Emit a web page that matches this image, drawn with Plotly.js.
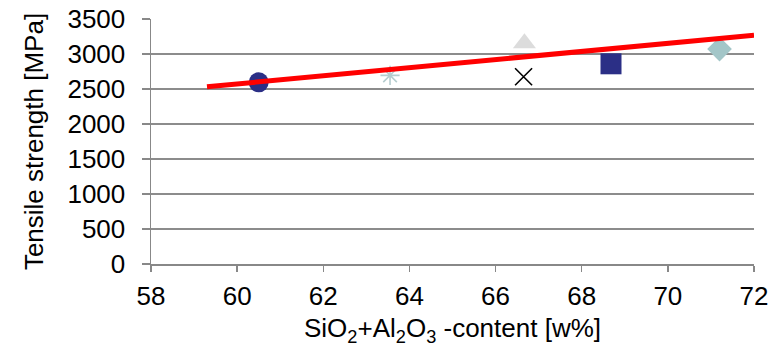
<!DOCTYPE html>
<html>
<head>
<meta charset="utf-8">
<script src="https://cdn.plot.ly/plotly-3.0.1.min.js"></script>
<style>html,body{margin:0;padding:0;background:#fff;}#chart{width:780px;height:351px;}</style>
</head>
<body>
<div id="chart"></div>
<script>
// Data
const seriesNames = ["Circle", "Asterisk", "Triangle", "Cross", "Square", "Diamond"];
const contentX = [60.5, 63.55, 66.67, 66.65, 68.68, 71.2];
const strengthY = [2595, 2695, 3155, 2675, 2860, 3070];
const markerSymbols = ["circle", "asterisk-open", "triangle-up", "x-thin-open", "square", "diamond"];
const markerColors = ["#2B2F86", "#B5CDCF", "#DCDCDC", "#000000", "#2B2F86", "#A3C6C8"];
const markerSizes = [20, 16, 20, 17, 21, 19];
const trendX = [59.3, 72];
const trendY = [2532, 3269];
const xTicks = [58, 60, 62, 64, 66, 68, 70, 72];
const yTicks = [0, 500, 1000, 1500, 2000, 2500, 3000, 3500];

const traces = seriesNames.map((n, i) => ({
  type: "scatter",
  mode: "markers",
  name: n,
  x: [contentX[i]],
  y: [strengthY[i]],
  marker: {
    symbol: markerSymbols[i],
    color: markerColors[i],
    size: markerSizes[i],
    line: {color: markerColors[i], width: markerSymbols[i].indexOf("open") >= 0 ? 1.6 : 0}
  },
  hoverinfo: "x+y"
}));
traces.push({
  type: "scatter",
  mode: "lines",
  name: "Trend",
  x: trendX,
  y: trendY,
  line: {color: "#FF0000", width: 5},
  hoverinfo: "skip"
});

const font = {family: "Liberation Sans, Arial, sans-serif", size: 26, color: "#000"};
const layout = {
  width: 780,
  height: 351,
  margin: {l: 150.5, r: 25.5, t: 19, b: 86.5},
  paper_bgcolor: "#fff",
  plot_bgcolor: "#fff",
  showlegend: false,
  font: font,
  xaxis: {
    range: [58, 72],
    tickmode: "array",
    tickvals: xTicks,
    ticktext: xTicks.map(String),
    showgrid: false,
    zeroline: false,
    showline: true,
    linecolor: "#888888",
    linewidth: 1.5,
    ticks: "outside",
    ticklen: 6,
    tickwidth: 1.5,
    tickcolor: "#888888",
    tickfont: font,
    ticklabelstandoff: 2,
    title: {text: "SiO<sub>2</sub>+Al<sub>2</sub>O<sub>3</sub> -content [w%]", font: font, standoff: 9}
  },
  yaxis: {
    range: [0, 3500],
    tickmode: "array",
    tickvals: yTicks,
    ticktext: yTicks.map(String),
    showgrid: true,
    gridcolor: "#8C8C8C",
    gridwidth: 1.3,
    zeroline: false,
    showline: true,
    linecolor: "#888888",
    linewidth: 1.5,
    ticks: "outside",
    ticklen: 8,
    tickwidth: 1.5,
    tickcolor: "#888888",
    tickfont: font,
    ticklabelstandoff: 11,
    title: {text: "Tensile strength [MPa]", font: font, standoff: 16}
  }
};

Plotly.newPlot("chart", traces, layout, {staticPlot: true, displayModeBar: false});
</script>
</body>
</html>
